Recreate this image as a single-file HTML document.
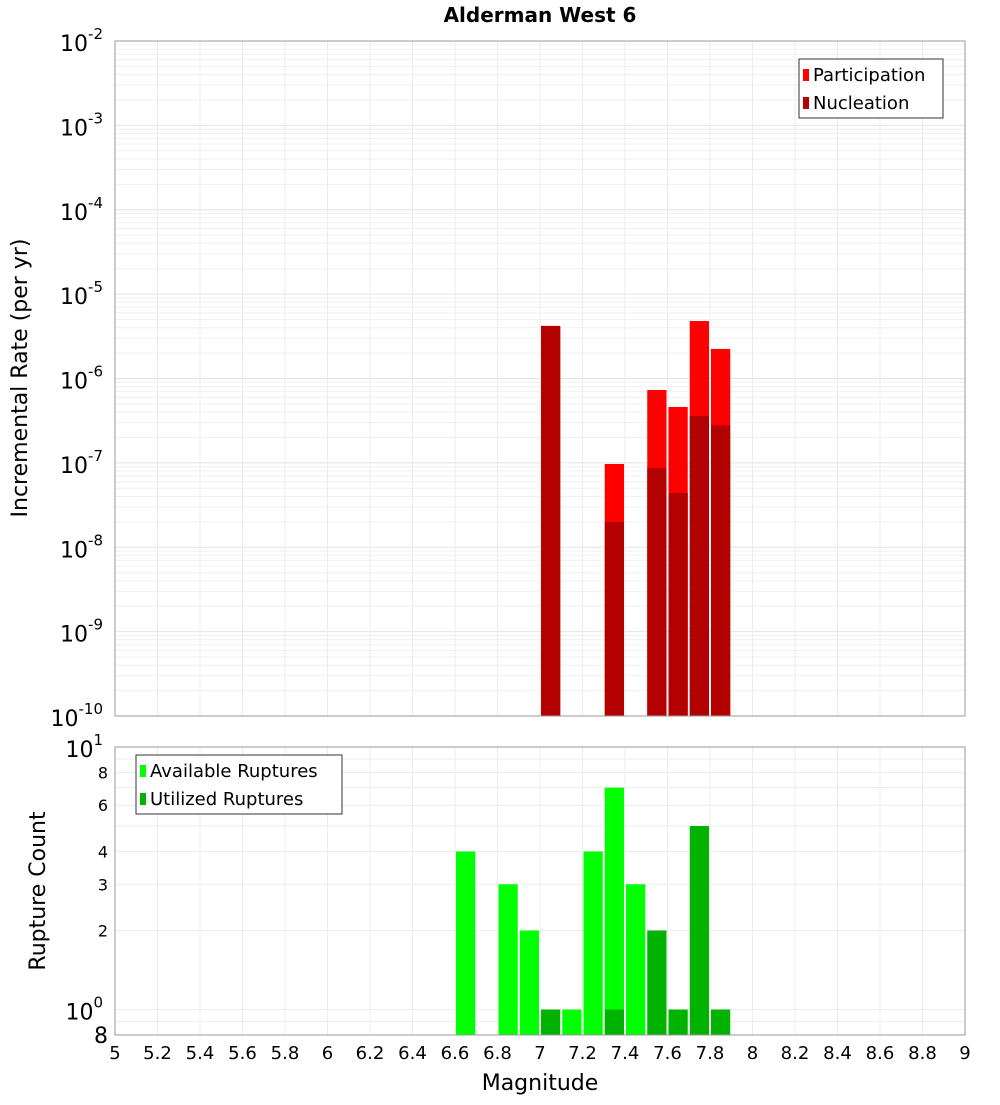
<!DOCTYPE html>
<html><head><meta charset="utf-8"><style>
body{margin:0;background:#fff;font-family:"Liberation Sans","DejaVu Sans",sans-serif;}
svg text{font-family:"DejaVu Sans","Liberation Sans",sans-serif;}
</style></head><body>
<svg id="c" width="1000" height="1100" xmlns="http://www.w3.org/2000/svg">
<g id="grid"></g>
<text x="540" y="22" text-anchor="middle" font-size="20" font-weight="bold">Alderman West 6</text>
<g id="topPlot"></g>
<g id="botPlot"></g>
<text transform="translate(27,378) rotate(-90)" text-anchor="middle" font-size="22">Incremental Rate (per yr)</text>
<text transform="translate(45,891) rotate(-90)" text-anchor="middle" font-size="22">Rupture Count</text>
<text x="540" y="1090" text-anchor="middle" font-size="22">Magnitude</text>
</svg>
<script>
const magBins=[7.0,7.3,7.5,7.6,7.7,7.8];
const participation=[4.2e-6,9.7e-8,7.3e-7,4.6e-7,4.8e-6,2.24e-6];
const nucleation=[4.2e-6,2e-8,8.7e-8,4.4e-8,3.6e-7,2.8e-7];
const availBins=[6.6,6.8,6.9,7.1,7.2,7.3,7.4];
const available=[4,3,2,1,4,7,3];
const utilBins=[7.0,7.3,7.5,7.6,7.7,7.8];
const utilized=[1,1,2,1,5,1];
const xTicks=[5,5.2,5.4,5.6,5.8,6,6.2,6.4,6.6,6.8,7,7.2,7.4,7.6,7.8,8,8.2,8.4,8.6,8.8,9];
const NS='http://www.w3.org/2000/svg';
const X0=115,X1=965;
const xS=m=>X0+(m-5)/4*(X1-X0);
const T0=41,T1=716;
const yT=v=>T0+(-2-Math.log10(v))/8*(T1-T0);
const B0=747,B1=1035;
const yB=v=>B0+Math.log10(10/v)/Math.log10(12.5)*(B1-B0);
function el(p,t,a,txt){const e=document.createElementNS(NS,t);for(const k in a)e.setAttribute(k,a[k]);if(txt!==undefined)e.textContent=txt;p.appendChild(e);return e;}
const topG=document.getElementById('topPlot'),botG=document.getElementById('botPlot'),svgEl=document.getElementById('c'),gridG=document.getElementById('grid');
for(let d=-10;d<-2;d++){for(let k=1;k<10;k++){const y=yT(k*Math.pow(10,d));const g=el(gridG,'line',{x1:X0,x2:X1,y1:y,y2:y,stroke:k==1?'#e4e4e4':'#f0f0f0','stroke-width':1});

}}
for(const v of [0.8,0.9,1,2,3,4,5,6,7,8,9,10]){const y=yB(v);const g=el(gridG,'line',{x1:X0,x2:X1,y1:y,y2:y,stroke:'#ececec'});

}
for(const t of xTicks){for(const [a,b] of [[T0,T1],[B0,B1]]){const g=el(gridG,'line',{x1:xS(t),x2:xS(t),y1:a,y2:b,stroke:'#ececec'});

}}
magBins.forEach((m,i)=>{
const r=el(topG,'rect',{x:xS(m)+1,width:xS(m+0.1)-xS(m)-2,y:yT(participation[i]),height:T1-yT(participation[i]),fill:'#ff0000'});


const n=el(topG,'rect',{x:xS(m)+1,width:xS(m+0.1)-xS(m)-2,y:yT(nucleation[i]),height:T1-yT(nucleation[i]),fill:'#b30000'});

});
availBins.forEach((m,i)=>{const r=el(botG,'rect',{x:xS(m)+1,width:xS(m+0.1)-xS(m)-2,y:yB(available[i]),height:B1-yB(available[i]),fill:'#00ff00'});

});
utilBins.forEach((m,i)=>{const r=el(botG,'rect',{x:xS(m)+1,width:xS(m+0.1)-xS(m)-2,y:yB(utilized[i]),height:B1-yB(utilized[i]),fill:'#00b300'});

});
for(const [a,b] of [[T0,T1],[B0,B1]]){const f=el(svgEl,'rect',{x:X0,y:a,width:X1-X0,height:b-a,fill:'none',stroke:'#999'});

}
for(let d=-10;d<=-2;d++){const y=yT(Math.pow(10,d));const t=el(topG,'text',{x:103,y:y+10,'text-anchor':'end','font-size':22});


t.textContent='10';el(t,'tspan',{dy:-12,'font-size':15},String(d));}
for(const v of [2,3,4,6,8]){const t=el(botG,'text',{x:108,y:yB(v)+6,'text-anchor':'end','font-size':16},String(v));

}
[[10,'1'],[1,'0']].forEach(([v,s])=>{const t=el(botG,'text',{x:103,y:yB(v)+10,'text-anchor':'end','font-size':22});


t.textContent='10';el(t,'tspan',{dy:-12,'font-size':15},s);});
{const t=el(botG,'text',{x:108,y:1043,'text-anchor':'end','font-size':22},'8');

}
for(const v of xTicks){const t=el(svgEl,'text',{x:xS(v),y:1059,'text-anchor':'middle','font-size':18},String(v));

}
function legend(p,lx,ly,w,items,name){const g=el(p,'g',{});


el(g,'rect',{x:lx,y:ly,width:w,height:59,fill:'#fff',stroke:'#333'});
items.forEach(([c,l],i)=>{el(g,'rect',{x:lx+4,y:ly+10+i*28,width:6,height:12,fill:c});el(g,'text',{x:lx+14,y:ly+22+i*28,'font-size':18},l);});}
legend(svgEl,799,59,144,[['#ff0000','Participation'],['#b30000','Nucleation']],'legend-rate');
legend(svgEl,136,755,206,[['#00ff00','Available Ruptures'],['#00b300','Utilized Ruptures']],'legend-count');
</script>
</body></html>
